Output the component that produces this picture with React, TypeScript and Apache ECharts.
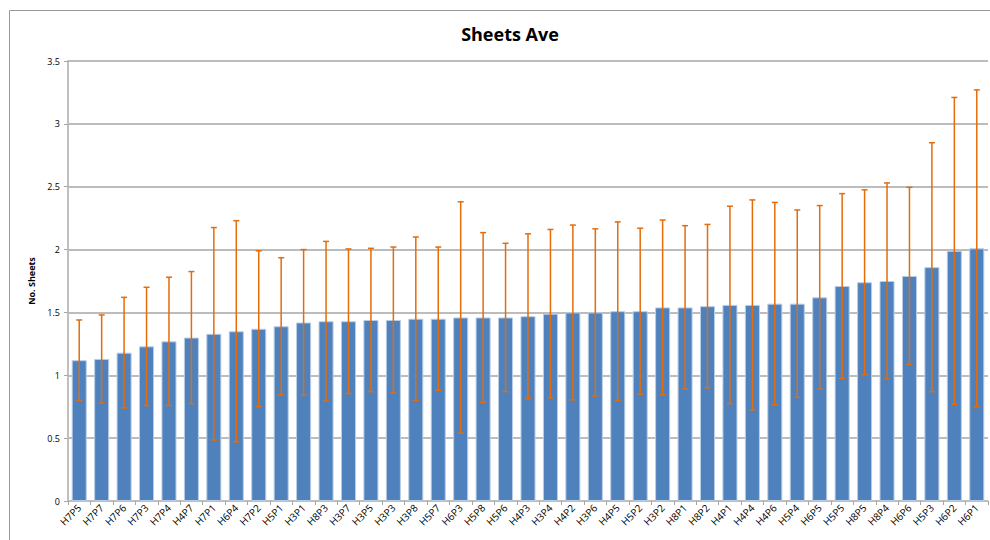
import React, { useEffect, useRef } from "react";
import * as echarts from "echarts";

const categories = [
  "H7P5", "H7P7", "H7P6", "H7P3", "H7P4", "H4P7", "H7P1", "H6P4", "H7P2", "H5P1",
  "H3P1", "H8P3", "H3P7", "H3P5", "H3P3", "H3P8", "H5P7", "H6P3", "H5P8", "H5P6",
  "H4P3", "H3P4", "H4P2", "H3P6", "H4P5", "H5P2", "H3P2", "H8P1", "H8P2", "H4P1",
  "H4P4", "H4P6", "H5P4", "H6P5", "H5P5", "H8P5", "H8P4", "H6P6", "H5P3", "H6P2", "H6P1",
];

const averages = [
  1.12, 1.13, 1.18, 1.23, 1.27, 1.3, 1.33, 1.35, 1.37, 1.39,
  1.42, 1.43, 1.43, 1.44, 1.44, 1.45, 1.45, 1.46, 1.46, 1.46,
  1.47, 1.49, 1.5, 1.5, 1.51, 1.51, 1.54, 1.54, 1.55, 1.56,
  1.56, 1.57, 1.57, 1.62, 1.71, 1.74, 1.75, 1.79, 1.86, 1.99, 2.01,
];

const errors = [
  0.32, 0.35, 0.44, 0.47, 0.51, 0.525, 0.845, 0.88, 0.62, 0.545,
  0.58, 0.635, 0.575, 0.57, 0.58, 0.65, 0.57, 0.92, 0.675, 0.59,
  0.655, 0.67, 0.695, 0.665, 0.71, 0.66, 0.695, 0.65, 0.65, 0.785,
  0.835, 0.805, 0.745, 0.73, 0.735, 0.735, 0.78, 0.705, 0.99, 1.22, 1.26,
];

const yTicks = ["0", "0.5", "1", "1.5", "2", "2.5", "3", "3.5"];

export default function App() {
  const ref = useRef<HTMLDivElement>(null);
  useEffect(() => {
    if (!ref.current) return;
    const chart = echarts.init(ref.current, null, { renderer: "svg" });
    const errData = averages.map((v, i) => [i, v - errors[i], v + errors[i]]);
    const font = "'Open Sans', 'Noto Sans', sans-serif";
    chart.setOption({
      animation: false,
      backgroundColor: "#ffffff",
      title: {
        text: "Sheets Ave",
        left: 505,
        top: 20,
        textAlign: "center",
        textStyle: { fontSize: 18, fontWeight: "bold", color: "#000", fontFamily: font },
      },
      graphic: [
        {
          type: "rect",
          shape: { x: 9.5, y: 10.5, width: 1100, height: 700 },
          style: { fill: "none", stroke: "#9a9a9a", lineWidth: 1 },
          silent: true,
        },
      ],
      grid: { left: 68, right: 2, top: 61, bottom: 39, containLabel: false },
      xAxis: {
        type: "category",
        data: categories,
        axisLine: { lineStyle: { color: "#bfbfbf", width: 1.5 } },
        axisTick: { show: true, length: 4, lineStyle: { color: "#a6a6a6" } },
        axisLabel: { rotate: 45, fontSize: 10, color: "#000", fontFamily: font, margin: 5, interval: 0 },
      },
      yAxis: {
        type: "value",
        min: 0,
        max: 3.5,
        interval: 0.5,
        name: "No. Sheets",
        nameLocation: "middle",
        nameGap: 31,
        nameTextStyle: { fontSize: 9, fontWeight: "bold", color: "#000", fontFamily: font },
        axisLine: { show: true, lineStyle: { color: "#bfbfbf", width: 2 } },
        axisTick: { show: true, length: 4, lineStyle: { color: "#a6a6a6" } },
        axisLabel: {
          fontSize: 9,
          color: "#000",
          fontFamily: font,
          margin: 8,
          formatter: (v: number) => yTicks[Math.round(v / 0.5)] ?? String(v),
        },
        splitLine: { show: true, lineStyle: { color: "#a6a6a6", width: 1.5 } },
      },
      series: [
        {
          type: "bar",
          data: averages,
          barCategoryGap: "33%",
          itemStyle: { color: "#4f81bd", borderColor: "#b9cde5", borderWidth: 1 },
        },
        {
          type: "custom",
          data: errData,
          z: 10,
          renderItem: (params: any, api: any) => {
            const x = api.value(0);
            const lo = api.coord([x, api.value(1)]);
            const hi = api.coord([x, api.value(2)]);
            const cap = 3;
            const style = { stroke: "#e46c0a", lineWidth: 1.5 };
            return {
              type: "group",
              children: [
                { type: "line", shape: { x1: hi[0], y1: hi[1], x2: lo[0], y2: lo[1] }, style },
                { type: "line", shape: { x1: hi[0] - cap, y1: hi[1], x2: hi[0] + cap, y2: hi[1] }, style },
                { type: "line", shape: { x1: lo[0] - cap, y1: lo[1], x2: lo[0] + cap, y2: lo[1] }, style },
              ],
            };
          },
        },
      ],
    });
    return () => chart.dispose();
  }, []);
  return (
    <div
      ref={ref}
      style={{ position: "fixed", left: 0, top: 0, width: 990, height: 540 }}
    />
  );
}
